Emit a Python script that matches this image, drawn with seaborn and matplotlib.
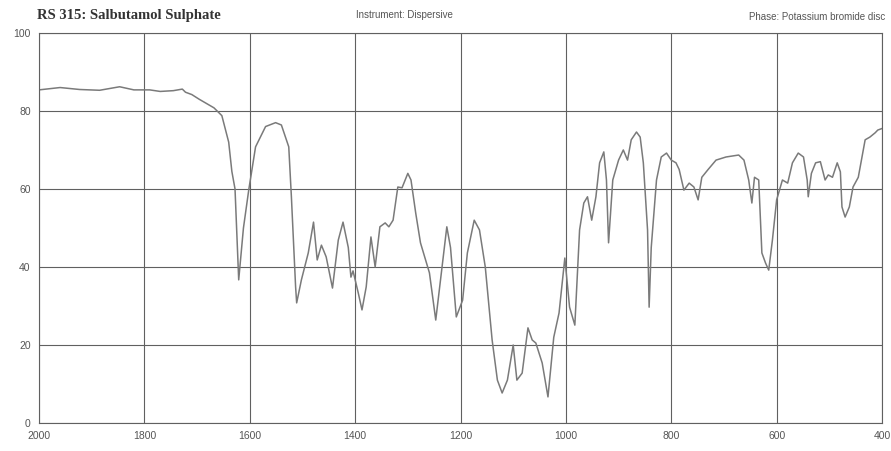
import matplotlib
matplotlib.use("Agg")
import matplotlib.pyplot as plt
import seaborn as sns
import numpy as np
import pandas as pd

# Wavenumber (cm-1) and transmittance (%)
wavenumber = [2000, 1960, 1923, 1885, 1847, 1820, 1790, 1770, 1745, 1728, 1722, 1710, 1696,
              1668, 1653, 1640, 1634, 1628, 1621, 1612, 1602, 1589, 1570, 1551, 1540, 1526,
              1521, 1513, 1511, 1502, 1489, 1479, 1472, 1464, 1455, 1443, 1432, 1423, 1413,
              1408, 1404, 1394, 1387, 1379, 1370, 1362, 1353, 1343, 1336, 1328, 1319, 1311,
              1300, 1294, 1285, 1276, 1259, 1247, 1238, 1226, 1219, 1208, 1196, 1187, 1174,
              1164, 1153, 1140, 1130, 1121, 1111, 1100, 1093, 1083, 1072, 1064, 1057, 1045,
              1034, 1023, 1013, 1002, 993, 983, 974, 966, 959, 951, 943, 936, 928, 923, 919,
              911, 900, 891, 883, 876, 866, 859, 853, 845, 842, 838, 828, 819, 809, 800, 791,
              785, 776, 766, 757, 749, 742, 730, 715, 696, 672, 662, 653, 647, 642, 634, 628,
              621, 615, 608, 600, 589, 579, 570, 559, 549, 542, 540, 534, 526, 517, 508, 502,
              494, 485, 479, 476, 470, 462, 455, 445, 432, 423, 413, 408, 400]
transmittance = [85.4, 86.0, 85.5, 85.3, 86.2, 85.4, 85.4, 85.0, 85.2, 85.6, 84.8, 84.2, 83.0,
                 80.8, 78.8, 72.0, 64.5, 60.0, 36.7, 50.0, 59.7, 70.8, 76.0, 77.0, 76.4, 70.8,
                 58.0, 34.9, 30.8, 36.7, 43.6, 51.5, 41.8, 45.6, 42.6, 34.6, 46.9, 51.5, 45.0,
                 37.4, 39.0, 33.3, 29.0, 34.9, 47.7, 40.0, 50.3, 51.3, 50.3, 52.0, 60.5, 60.3,
                 64.0, 62.3, 53.8, 46.2, 38.5, 26.4, 36.7, 50.3, 45.0, 27.2, 31.5, 43.6, 52.0,
                 49.5, 40.0, 21.3, 11.0, 7.7, 11.0, 20.0, 11.0, 12.8, 24.4, 21.3, 20.5, 15.4,
                 6.7, 22.0, 28.2, 42.3, 29.7, 25.1, 49.5, 56.4, 58.0, 52.0, 58.0, 66.7, 69.5,
                 62.3, 46.2, 62.3, 67.4, 70.0, 67.4, 72.6, 74.6, 73.3, 66.7, 49.5, 29.7, 45.0,
                 62.3, 68.2, 69.2, 67.4, 66.7, 65.0, 59.7, 61.5, 60.5, 57.2, 63.0, 65.0, 67.4,
                 68.2, 68.7, 67.4, 62.3, 56.4, 63.0, 62.3, 43.6, 41.0, 39.2, 46.9, 57.2, 62.3,
                 61.5, 66.7, 69.2, 68.2, 62.3, 58.0, 64.0, 66.7, 67.0, 62.3, 63.6, 63.0, 66.7,
                 64.4, 55.4, 52.8, 55.4, 60.5, 63.0, 72.6, 73.3, 74.4, 75.1, 75.5]

x_ticks = [2000, 1800, 1600, 1400, 1200, 1000, 800, 600, 400]
y_ticks = [0, 20, 40, 60, 80, 100]

title_text = "RS 315: Salbutamol Sulphate"
instrument_text = "Instrument: Dispersive"
phase_text = "Phase: Potassium bromide disc"

df = pd.DataFrame({"wavenumber": wavenumber, "transmittance": transmittance})

sns.set_theme(style="white")
plt.rcParams["font.family"] = ["Liberation Sans", "DejaVu Sans"]

fig = plt.figure(figsize=(8.91, 4.51), dpi=100)
ax = fig.add_axes([0.0438, 0.062, 0.9461, 0.865])

sns.lineplot(data=df, x="wavenumber", y="transmittance", sort=False, ax=ax,
             color="#7a7a7a", linewidth=1.1)

ax.set_xlim(2000, 400)
ax.set_ylim(0, 100)
ax.set_xticks(x_ticks)
ax.set_yticks(y_ticks)
ax.set_xticklabels([str(v) for v in x_ticks])
ax.set_yticklabels([str(v) for v in y_ticks])
ax.grid(True, color="#606060", linewidth=0.8)
ax.tick_params(axis="both", length=0, labelsize=7.5, colors="#555555", pad=6)
ax.set_xlabel("")
ax.set_ylabel("")
for s in ax.spines.values():
    s.set_color("#606060")
    s.set_linewidth(0.8)

fig.text(0.041, 0.965, title_text, fontsize=10.5, fontweight="bold",
         family=["Liberation Serif", "DejaVu Serif"], color="#333333", va="center")
fig.text(0.40, 0.967, instrument_text, fontsize=7, color="#555555", va="center")
fig.text(0.993, 0.962, phase_text, fontsize=7, color="#555555", va="center", ha="right")

fig.savefig("out.png", dpi=100)
